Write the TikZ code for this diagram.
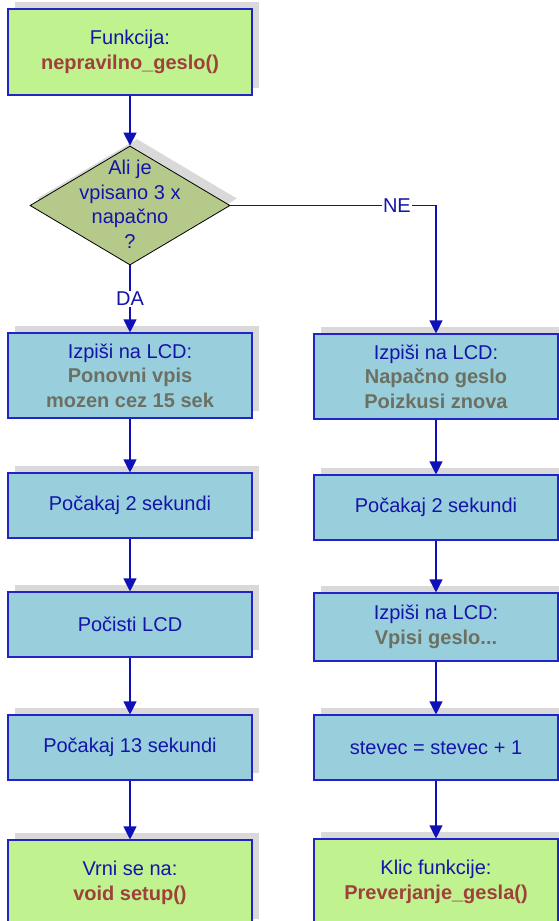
\documentclass[tikz,border=0pt]{standalone}
\usepackage{fontspec}
\setmainfont{Liberation Sans}
\usetikzlibrary{shapes.geometric,arrows.meta,shadows}
\definecolor{shadowgray}{HTML}{D9D9D9}
\definecolor{bordblue}{HTML}{2424C4}
\definecolor{lineblue}{HTML}{1010B8}
\definecolor{tblue}{HTML}{1414A8}
\definecolor{tred}{HTML}{A0403A}
\definecolor{tgray}{HTML}{6C7062}
\definecolor{gfill}{HTML}{C0F290}
\definecolor{bfill}{HTML}{99CFDD}
\definecolor{dfill}{HTML}{B5CA8A}
\tikzset{
  sh/.style={general shadow={fill=shadowgray, shadow xshift=7pt, shadow yshift=7pt}},
  txt/.style={font=\fontsize{20}{24.5}\selectfont, text=tblue, align=center},
  basebox/.style={draw=bordblue, line width=1.1pt, minimum width=244pt, inner sep=0pt, sh, txt},
  gbox/.style={basebox, fill=gfill},
  bbox/.style={basebox, fill=bfill},
  conn/.style={draw=lineblue, line width=1.1pt, -{Triangle[width=13pt,length=13pt]}},
  lbl/.style={txt, fill=white, inner sep=1pt}
}
\newcommand{\rd}[1]{\textcolor{tred}{\textbf{#1}}}
\newcommand{\gr}[1]{\textcolor{tgray}{\textbf{#1}}}
\begin{document}
\begin{tikzpicture}[x=1pt,y=-1pt]
\useasboundingbox (0,0) rectangle (559,921);
% left column
\node[gbox, minimum height=86pt] (f) at (130,52) {Funkcija:\\\rd{nepravilno\_geslo()}};
\node[diamond, draw=black, line width=0.8pt, fill=dfill, minimum width=200pt, minimum height=119pt, inner sep=0pt, sh] (d) at (130,205.5) {};
\node[txt] (dt) at (130,204) {Ali je\\vpisano 3 x\\napačno\\?};
\node[bbox, minimum height=85pt] (l1) at (130,375.5) {Izpiši na LCD:\\\gr{Ponovni vpis}\\\gr{mozen cez 15 sek}};
\node[bbox, minimum height=65pt] (l2) at (130,505.5) {Počakaj 2 sekundi};
\node[bbox, minimum height=65pt] (l3) at (130,624.5) {Počisti LCD};
\node[bbox, minimum height=65pt] (l4) at (130,747.5) {Počakaj 13 sekundi};
\node[gbox, minimum height=86pt] (l5) at (130,883) {Vrni se na:\\\rd{void setup()}};
% right column
\node[bbox, minimum height=85pt] (r1) at (436,376.5) {Izpiši na LCD:\\\gr{Napačno geslo}\\\gr{Poizkusi znova}};
\node[bbox, minimum height=65pt] (r2) at (436,507.5) {Počakaj 2 sekundi};
\node[bbox, minimum height=68pt] (r3) at (436,627) {Izpiši na LCD:\\\gr{Vpisi geslo...}};
\node[bbox, minimum height=65pt] (r4) at (436,747.5) {stevec = stevec + 1};
\node[gbox, minimum height=86pt] (r5) at (436,882) {Klic funkcije:\\\rd{Preverjanje\_gesla()}};
% connectors
\draw[conn] (f.south) -- (d.north);
\draw[conn] (d.south) -- node[lbl] {DA} (l1.north);
\draw[conn] (d.east) -| node[lbl, pos=0.405] {NE} (r1.north);
\draw[conn] (l1.south) -- (l2.north);
\draw[conn] (l2.south) -- (l3.north);
\draw[conn] (l3.south) -- (l4.north);
\draw[conn] (l4.south) -- (l5.north);
\draw[conn] (r1.south) -- (r2.north);
\draw[conn] (r2.south) -- (r3.north);
\draw[conn] (r3.south) -- (r4.north);
\draw[conn] (r4.south) -- (r5.north);
\end{tikzpicture}
\end{document}
